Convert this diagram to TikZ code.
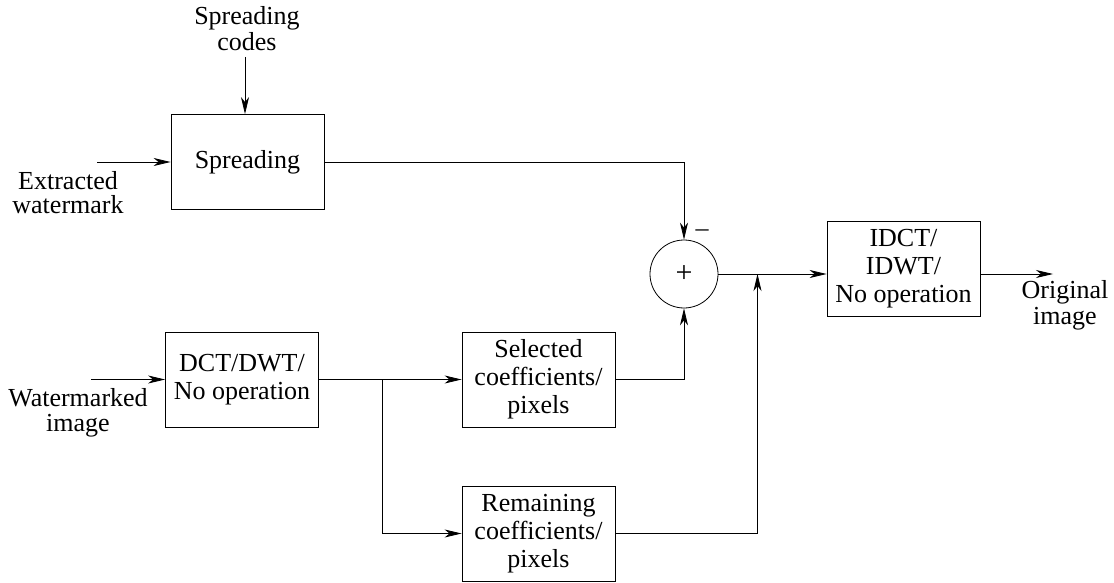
\documentclass[tikz,border=0pt]{standalone}
\usepackage{fontspec}
\setmainfont{Liberation Serif}
\usetikzlibrary{arrows.meta}
\begin{document}
\begin{tikzpicture}[x=1pt,y=-1pt,
  lbl/.style={font=\fontsize{26}{26}\selectfont, align=center, inner sep=0pt, anchor=base},
  blk/.style={draw, line width=0.8pt, minimum width=153pt, minimum height=95pt, inner sep=0pt,
              font=\fontsize{26}{28}\selectfont, align=center},
  sum/.style={draw, circle, line width=0.8pt, minimum size=68pt, inner sep=0pt,
              font=\fontsize{30}{30}\selectfont},
  wire/.style={line width=0.8pt},
  arr/.style={wire, -{Stealth[length=17pt, width=8pt, inset=5pt]}}]
\useasboundingbox (0,0) rectangle (1114,583);

% processing blocks
\node[blk] (spread) at (247.5,162) {Spreading};
\node[blk] (dct) at (242,379.5) {DCT/DWT/\\No operation};
\node[blk] (sel) at (538.5,379.5) {\fontsize{26}{27}\selectfont Selected\\coefficients/\\pixels};
\node[blk] (rem) at (538.5,533.5) {\fontsize{26}{30}\selectfont Remaining\\coefficients/\\pixels};
\node[blk] (idct) at (903.5,268.5) {\fontsize{26}{29}\selectfont IDCT/\\IDWT/\\No operation};
\node[sum] (add) at (684,274) {+};
\node[lbl] (minus) at (702,236) {–};

% inputs and output labels (anchored at the baseline of their last line)
\node[lbl] (codes) at (247,51) {Spreading\\codes};
\node[lbl, font=\fontsize{26}{24}\selectfont] (ext) at (68,213) {Extracted\\watermark};
\node[lbl, font=\fontsize{26}{25}\selectfont] (wmk) at (78,431) {Watermarked\\image};
\node[lbl] (orig) at (1065,324) {Original\\image};

% free ends of the connectors
\coordinate (codesend) at (245,57);
\coordinate (extend) at (97,162);
\coordinate (wmkend) at (91,379.5);
\coordinate (origend) at (1053,274);
\coordinate (split) at (382,379.5);
\coordinate (join) at (757.5,274);

% connectors
\draw[arr] (codesend) -- (codesend |- spread.north);
\draw[arr] (extend) -- (spread.west);
\draw[arr] (spread.east) -| (add.north);
\draw[arr] (wmkend) -- (dct.west);
\draw[arr] (dct.east) -- (sel.west);
\draw[arr] (split) |- (rem.west);
\draw[arr] (sel.east) -| (add.south);
\draw[arr] (add.east) -- (idct.west |- add.east);
\draw[arr] (rem.east) -| (join);
\draw[arr] (idct.east |- add.east) -- (origend);
\end{tikzpicture}
\end{document}
